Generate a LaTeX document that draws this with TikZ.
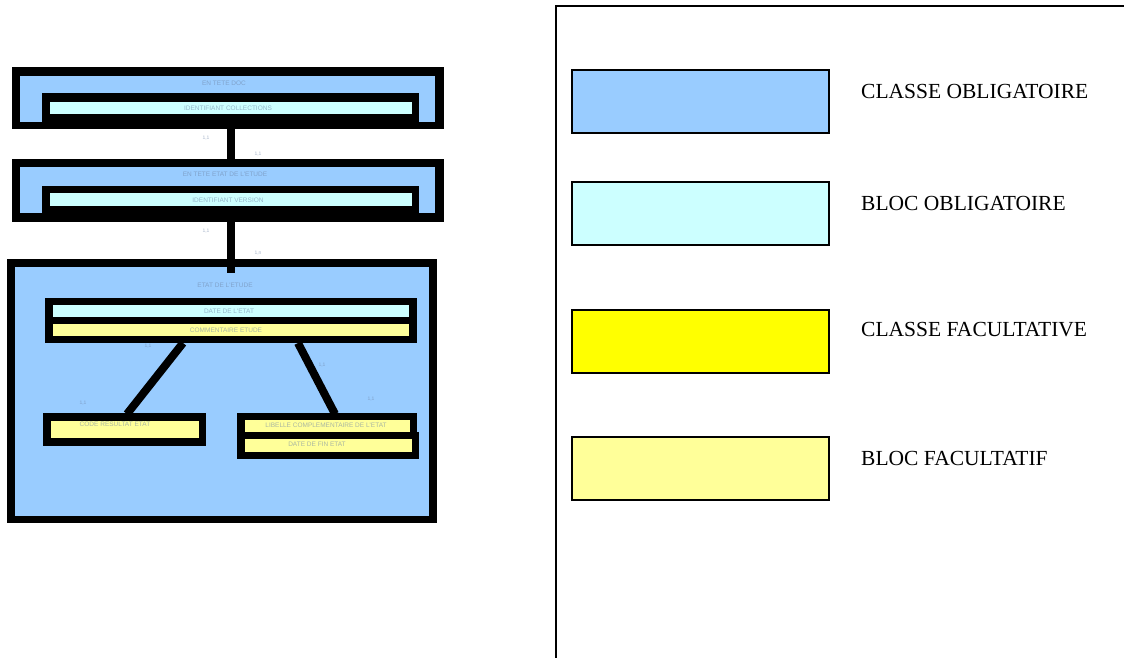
\documentclass[tikz,border=0pt]{standalone}
\usepackage{fontspec}
\setmainfont{Liberation Serif}
\newfontfamily\tinyfont{Liberation Sans}
\definecolor{cblue}{HTML}{99CCFF}
\definecolor{ccyan}{HTML}{CCFFFF}
\definecolor{cyel}{HTML}{FFFF00}
\definecolor{clyel}{HTML}{FFFF99}
\definecolor{tickcol}{HTML}{6F86A8}
\begin{document}
\begin{tikzpicture}[x=1pt,y=-1pt,
  rc/.style={inner sep=0pt, outer sep=0pt, anchor=north west, draw=none},
  link/.style={line width=8pt, black},
  tinylbl/.style={font=\tinyfont\fontsize{6.5}{6.5}\selectfont, text=tickcol, text opacity=0.6, inner sep=0pt},
  card/.style={font=\tinyfont\fontsize{5}{5}\selectfont, text=tickcol, text opacity=0.6, inner sep=0pt},
  legbox/.style={inner sep=0pt, outer sep=0pt, anchor=north west, draw=black, line width=1.2pt, minimum width=257pt, minimum height=63pt},
  legtxt/.style={anchor=west, inner sep=0pt, font=\fontsize{21.5}{24}\selectfont}]
\useasboundingbox (0,0) rectangle (1124,658);
% ---------- Box A ----------
\node[rc, fill=black, minimum width=432pt, minimum height=62pt] (Aframe) at (12,67) {};
\node[rc, fill=cblue, minimum width=415pt, minimum height=46pt] (Ablue) at (20,76) {};
\node[rc, fill=black, minimum width=377pt, minimum height=36pt] (Ablk) at (42,93) {};
\node[rc, fill=ccyan, minimum width=362pt, minimum height=12pt] (Acyan) at (50,102) {};
\node[tinylbl] (Atxt) at (224,83) {EN TETE DOC};
\node[tinylbl] (Actxt) at (228,108) {IDENTIFIANT COLLECTIONS};
% ---------- Box B ----------
\node[rc, fill=black, minimum width=432pt, minimum height=63pt] (Bframe) at (12,159) {};
\node[rc, fill=cblue, minimum width=415pt, minimum height=46pt] (Bblue) at (20,167) {};
\node[rc, fill=black, minimum width=377pt, minimum height=36pt] (Bblk) at (42,186) {};
\node[rc, fill=ccyan, minimum width=362pt, minimum height=13pt] (Bcyan) at (50,193) {};
\node[tinylbl] (Btxt) at (225,174) {EN TETE ETAT DE L'ETUDE};
\node[tinylbl] (Bctxt) at (228,200) {IDENTIFIANT VERSION};
% ---------- Box C ----------
\node[rc, fill=black, minimum width=430pt, minimum height=264pt] (Cframe) at (7,259) {};
\node[rc, fill=cblue, minimum width=414pt, minimum height=249pt] (Cblue) at (15,267) {};
\node[tinylbl] (Ctxt) at (225,285) {ETAT DE L'ETUDE};
% inner block D
\node[rc, fill=black, minimum width=372pt, minimum height=45pt] (Dblk) at (45,298) {};
\node[rc, fill=ccyan, minimum width=356pt, minimum height=12pt] (Dcyan) at (53,305) {};
\node[rc, fill=clyel, minimum width=356pt, minimum height=12pt] (Dyel) at (53,324) {};
\node[tinylbl] (Dctxt) at (229,311) {DATE DE L'ETAT};
\node[tinylbl] (Dytxt) at (226,330) {COMMENTAIRE ETUDE};
% block E
\node[rc, fill=black, minimum width=163pt, minimum height=33pt] (Eblk) at (43,413) {};
\node[rc, fill=clyel, minimum width=148pt, minimum height=17pt] (Eyel) at (51,421) {};
\node[tinylbl] (Etxt) at (115,424) {CODE RESULTAT ETAT};
% block F (two stacked)
\node[rc, fill=black, minimum width=180pt, minimum height=20pt] (Fblk) at (237,413) {};
\node[rc, fill=clyel, minimum width=165pt, minimum height=12pt] (Fyel) at (245,420) {};
\node[rc, fill=black, minimum width=182pt, minimum height=27pt] (Gblk) at (237,432) {};
\node[rc, fill=clyel, minimum width=167pt, minimum height=13pt] (Gyel) at (245,439) {};
\node[tinylbl] (Ftxt) at (326,425) {LIBELLE COMPLEMENTAIRE DE L'ETAT};
\node[tinylbl] (Gtxt) at (317,444) {DATE DE FIN ETAT};
% ---------- connectors ----------
\coordinate (ab1) at (231,129);
\coordinate (ab2) at (231,159);
\coordinate (bc1) at (231,222);
\coordinate (bc2) at (231,273);
\coordinate (de1) at (183,343);
\coordinate (de2) at (127,414);
\coordinate (df1) at (298,343);
\coordinate (df2) at (335,414);
\draw[link] (ab1) -- (ab2);
\draw[link] (bc1) -- (bc2);
\draw[link] (de1) -- (de2);
\draw[link] (df1) -- (df2);
% cardinalities
\node[card] (c1) at (206,138) {1,1};
\node[card] (c2) at (258,154) {1,1};
\node[card] (c3) at (206,231) {1,1};
\node[card] (c4) at (258,253) {1,n};
\node[card] (c5) at (148,346) {1,1};
\node[card] (c6) at (322,365) {1,1};
\node[card] (c7) at (83,403) {1,1};
\node[card] (c8) at (371,399) {1,1};
% ---------- legend ----------
\coordinate (fr1) at (556,658);
\coordinate (fr2) at (556,6);
\coordinate (fr3) at (1124,6);
\draw[line width=2.2pt] (fr1) -- (fr2) -- (fr3);
\node[legbox, fill=cblue] (L1) at (572,70) {};
\node[legbox, fill=ccyan] (L2) at (572,182) {};
\node[legbox, fill=cyel] (L3) at (572,310) {};
\node[legbox, fill=clyel] (L4) at (572,437) {};
\node[legtxt] (T1) at (861,91) {CLASSE OBLIGATOIRE};
\node[legtxt] (T2) at (861,203) {BLOC OBLIGATOIRE};
\node[legtxt] (T3) at (861,330) {CLASSE FACULTATIVE};
\node[legtxt] (T4) at (861,458) {BLOC FACULTATIF};
\end{tikzpicture}
\end{document}
